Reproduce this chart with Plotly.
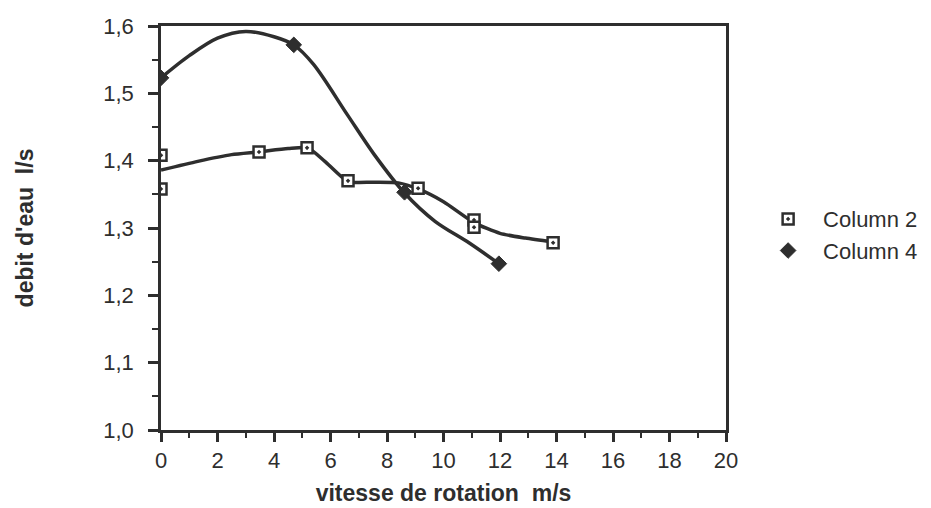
import plotly.graph_objects as go

# Measured points
col2_x = [0, 0, 3.47, 5.17, 6.62, 9.1, 11.08, 11.08, 13.88]
col2_y = [1.408, 1.358, 1.413, 1.419, 1.370, 1.359, 1.312, 1.301, 1.278]
col4_x = [0, 4.7, 8.62, 11.96]
col4_y = [1.523, 1.572, 1.353, 1.247]

# Smoothed curves
curve2_x = [0, 1.3, 2.5, 3.45, 4.5, 5.2, 5.8, 6.62, 7.5, 8.4, 9.1, 10.0, 11.08, 12.0, 12.9, 13.88]
curve2_y = [1.386, 1.399, 1.409, 1.413, 1.418, 1.419, 1.399, 1.369, 1.368, 1.367, 1.358, 1.339, 1.308, 1.292, 1.285, 1.279]
curve4_x = [0, 1.0, 2.0, 3.0, 4.0, 4.7, 5.4, 6.6, 7.55, 8.62, 9.7, 10.9, 11.96]
curve4_y = [1.523, 1.556, 1.582, 1.592, 1.584, 1.572, 1.543, 1.468, 1.409, 1.352, 1.31, 1.278, 1.247]

x_ticks = list(range(0, 21, 2))
y_ticks = [1.0, 1.1, 1.2, 1.3, 1.4, 1.5, 1.6]
y_labels = ["1,0", "1,1", "1,2", "1,3", "1,4", "1,5", "1,6"]

INK = "#2e2e2e"
FONT = "Liberation Sans, Arial, sans-serif"

fig = go.Figure()
fig.add_trace(go.Scatter(x=curve2_x, y=curve2_y, mode="lines", showlegend=False,
                         line=dict(color=INK, width=3.5, shape="spline", smoothing=0.6),
                         hoverinfo="skip"))
fig.add_trace(go.Scatter(x=curve4_x, y=curve4_y, mode="lines", showlegend=False,
                         line=dict(color=INK, width=3.5, shape="spline", smoothing=0.9),
                         hoverinfo="skip"))
fig.add_trace(go.Scatter(x=col2_x, y=col2_y, mode="markers", name="Column 2",
                         marker=dict(symbol="square-dot", size=11, color="white",
                                     line=dict(color=INK, width=2.5))))
fig.add_trace(go.Scatter(x=col4_x, y=col4_y, mode="markers", name="Column 4",
                         marker=dict(symbol="diamond", size=12, color=INK,
                                     line=dict(color=INK, width=1))))

fig.update_layout(
    width=931, height=508,
    margin=dict(l=153, r=213, t=18, b=86, autoexpand=False),
    paper_bgcolor="white", plot_bgcolor="white",
    separators=",.",
    font=dict(family=FONT, color=INK, size=22),
    showlegend=True,
    legend=dict(x=1.048, y=0.574, xanchor="left", yanchor="top",
                font=dict(size=22, color=INK), bgcolor="rgba(0,0,0,0)",
                itemwidth=60, tracegroupgap=0),
)
fig.update_xaxes(
    range=[0, 20], tickvals=x_ticks, ticktext=[str(v) for v in x_ticks],
    showgrid=False, zeroline=False, showline=True, linecolor=INK, linewidth=2.5,
    mirror=True, ticks="outside", ticklen=9, tickwidth=2.5, tickcolor=INK,
    minor=dict(dtick=1, ticks="outside", ticklen=5, tickwidth=2, tickcolor=INK),
    tickfont=dict(size=22, color=INK), ticklabelstandoff=0,
    title=dict(text="<b>vitesse de rotation  m/s</b>", font=dict(size=23, color=INK), standoff=13),
    automargin=False,
)
fig.update_yaxes(
    range=[1.0, 1.6], tickvals=y_ticks, ticktext=y_labels,
    showgrid=False, zeroline=False, showline=True, linecolor=INK, linewidth=2.5,
    mirror=True, ticks="outside", ticklen=10, tickwidth=2.5, tickcolor=INK,
    minor=dict(dtick=0.05, ticks="outside", ticklen=6, tickwidth=2, tickcolor=INK),
    tickfont=dict(size=22, color=INK), ticklabelstandoff=10,
    title=dict(text="<b>debit d'eau  l/s</b>", font=dict(size=23, color=INK), standoff=64),
    automargin=False,
)

fig.write_html("out.html")
